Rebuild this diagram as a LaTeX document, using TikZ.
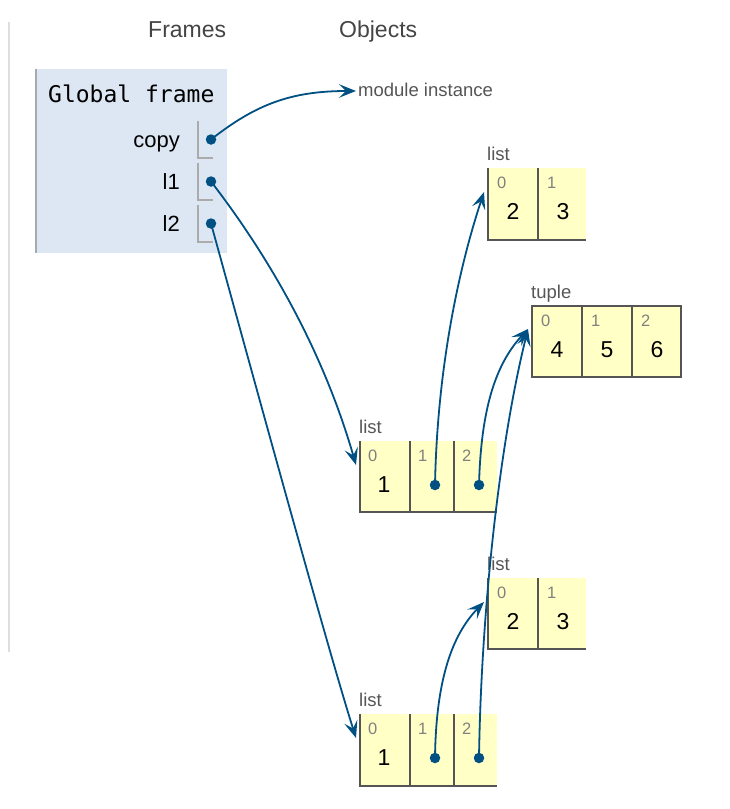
\documentclass[tikz,border=0pt]{standalone}
\usepackage{fontspec}
\setmainfont{Liberation Sans}
\newfontfamily\monof{DejaVu Sans Mono}
\usetikzlibrary{arrows.meta}
\definecolor{ptr}{RGB}{0,80,131}
\definecolor{framebg}{HTML}{DDE7F3}
\definecolor{frameedge}{HTML}{A3ACB3}
\definecolor{cellbg}{HTML}{FFFFC6}
\definecolor{celledge}{HTML}{555555}
\definecolor{labelc}{HTML}{555555}
\definecolor{idxc}{HTML}{808080}
\definecolor{hdrc}{HTML}{444444}
\begin{document}
\begin{tikzpicture}[x=1pt,y=-1pt,
  hdr/.style={font=\fontsize{23}{26}\selectfont, text=hdrc, inner sep=0, anchor=base west},
  gname/.style={font=\monof\fontsize{23}{26}\selectfont, text=black, inner sep=0, anchor=base west},
  vname/.style={font=\fontsize{22}{26}\selectfont, text=black, inner sep=0, anchor=base east},
  objlabel/.style={font=\fontsize{18.5}{22}\selectfont, text=labelc, inner sep=0, anchor=base west},
  idx/.style={font=\fontsize{16.5}{19}\selectfont, text=idxc, inner sep=0, anchor=base west},
  val/.style={font=\fontsize{23}{26}\selectfont, text=black, inner sep=0, anchor=base},
  cellline/.style={draw=celledge, line width=2pt},
  ptrbox/.style={draw=black!33, line width=2pt},
  dot/.style={circle, fill=ptr, inner sep=0, minimum size=10.5pt},
  ptrarrow/.style={draw=ptr, line width=1.8pt, -{Stealth[length=17pt,width=13.5pt,inset=7pt]}}
]
\useasboundingbox (0,0) rectangle (730,809);

% left rule
\draw[black!13, line width=1.5pt] (9,22) -- (9,652);

% headers
\node[hdr] (hframes) at (148,37) {Frames};
\node[hdr] (hobjects) at (339,37) {Objects};

% global frame
\fill[framebg] (35,69) rectangle (227,253);
\draw[frameedge, line width=2.2pt] (36,69) -- (36,253);
\node[gname] (gf) at (48,102) {Global frame};
\node[vname] (vcopy) at (180,147.5) {copy};
\node[vname] (vl1) at (180,189.5) {l1};
\node[vname] (vl2) at (180,231.5) {l2};
\draw[ptrbox] (198,121) -- (198,158) -- (213,158);
\draw[ptrbox] (198,163) -- (198,200) -- (213,200);
\draw[ptrbox] (198,205) -- (198,242) -- (213,242);
\node[dot] (dcopy) at (211,139.5) {};
\node[dot] (dl1) at (211,181.5) {};
\node[dot] (dl2) at (211,223.5) {};

% module instance
\node[objlabel] (modinst) at (358,96) {module instance};
\coordinate (tmod) at (356,91);

% top list [2,3]
\node[objlabel] (lbltop) at (487,160) {list};
\fill[cellbg] (488,168) rectangle (586,240);
\draw[cellline] (488,168) -- (488,240) -- (586,240);
\draw[cellline] (538,168) -- (538,240);
\node[idx] at (497,188) {0};
\node[idx] at (547,188) {1};
\node[val] at (513,219) {2};
\node[val] at (563,219) {3};
\coordinate (ttop) at (484,192);

% tuple (4,5,6)
\node[objlabel] (lbltuple) at (531,298) {tuple};
\fill[cellbg] (532,306) rectangle (681,377);
\draw[cellline] (532,306) rectangle (681,377);
\draw[cellline] (582,306) -- (582,377);
\draw[cellline] (632,306) -- (632,377);
\node[idx] at (541,326) {0};
\node[idx] at (591,326) {1};
\node[idx] at (641,326) {2};
\node[val] at (557,357) {4};
\node[val] at (607,357) {5};
\node[val] at (657,357) {6};
\coordinate (ttuple) at (528,329);

% middle list l1
\node[objlabel] (lblmid) at (359,433) {list};
\fill[cellbg] (360,441) rectangle (497,512);
\draw[cellline] (360,441) -- (360,512) -- (497,512);
\draw[cellline] (410,441) -- (410,512);
\draw[cellline] (454,441) -- (454,512);
\node[idx] at (368,461) {0};
\node[idx] at (418,461) {1};
\node[idx] at (462,461) {2};
\node[val] at (384,492) {1};
\node[dot] (dm1) at (435,485) {};
\node[dot] (dm2) at (479,485) {};
\coordinate (tmid) at (356,465);

% lower list [2,3]
\node[objlabel] (lbllow) at (487,570) {list};
\fill[cellbg] (488,578) rectangle (586,649);
\draw[cellline] (488,578) -- (488,649) -- (586,649);
\draw[cellline] (538,578) -- (538,649);
\node[idx] at (497,598) {0};
\node[idx] at (547,598) {1};
\node[val] at (513,629) {2};
\node[val] at (563,629) {3};
\coordinate (tlow) at (484,602);

% bottom list l2
\node[objlabel] (lblbot) at (359,706) {list};
\fill[cellbg] (360,714) rectangle (497,786);
\draw[cellline] (360,714) -- (360,786) -- (497,786);
\draw[cellline] (410,714) -- (410,786);
\draw[cellline] (454,714) -- (454,786);
\node[idx] at (368,734) {0};
\node[idx] at (418,734) {1};
\node[idx] at (462,734) {2};
\node[val] at (384,765) {1};
\node[dot] (db1) at (435,758) {};
\node[dot] (db2) at (479,758) {};
\coordinate (tbot) at (356,738);

% pointers
\draw[ptrarrow] (dcopy.center) .. controls (255,105) and (290,91) .. (tmod);
\draw[ptrarrow] (dl1.center) .. controls (260,245) and (320,340) .. (tmid);
\draw[ptrarrow] (dl2.center) .. controls (235,310) and (325,640) .. (tbot);
\draw[ptrarrow] (dm1.center) .. controls (437,380) and (455,280) .. (ttop);
\draw[ptrarrow] (dm2.center) .. controls (481,410) and (495,365) .. (ttuple);
\draw[ptrarrow] (db2.center) .. controls (481,620) and (498,450) .. (ttuple);
\draw[ptrarrow] (db1.center) .. controls (436,680) and (452,635) .. (tlow);
\end{tikzpicture}
\end{document}
